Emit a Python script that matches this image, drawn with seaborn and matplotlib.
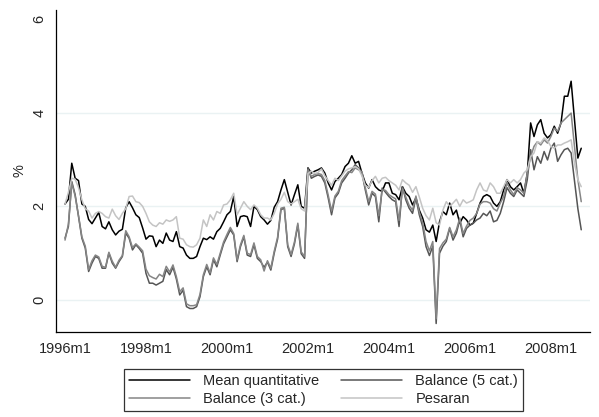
import numpy as np
import pandas as pd
import matplotlib
matplotlib.use("Agg")
import matplotlib.pyplot as plt
import seaborn as sns

# monthly series, 1996m1 .. 2008m10
mean_quant = [
    2.05, 2.15, 2.92, 2.60, 2.55, 2.05, 2.00, 1.72, 1.63, 1.75, 1.87, 1.57,
    1.52, 1.67, 1.50, 1.39, 1.47, 1.51, 1.97, 2.10, 1.97, 1.82, 1.76, 1.54,
    1.30, 1.37, 1.36, 1.14, 1.28, 1.21, 1.43, 1.28, 1.25, 1.46, 1.14, 1.11,
    0.96, 0.89, 0.89, 0.93, 1.14, 1.32, 1.29, 1.35, 1.30, 1.46, 1.53, 1.67,
    1.82, 1.89, 2.21, 1.57, 1.78, 1.80, 1.78, 1.57, 2.00, 1.93, 1.78, 1.71,
    1.62, 1.70, 1.98, 2.10, 2.35, 2.57, 2.30, 2.03, 2.25, 2.46, 2.00, 1.96,
    2.82, 2.71, 2.75, 2.78, 2.82, 2.71, 2.50, 2.35, 2.53, 2.60, 2.68, 2.85,
    2.92, 3.08, 2.92, 2.96, 2.71, 2.50, 2.39, 2.57, 2.42, 2.35, 2.32, 2.50,
    2.50, 2.28, 2.25, 2.14, 2.42, 2.28, 2.21, 2.03, 2.18, 1.92, 1.75, 1.50,
    1.45, 1.60, 1.25, 1.67, 1.89, 1.82, 2.07, 1.82, 1.92, 1.64, 1.78, 1.71,
    1.60, 1.64, 1.85, 2.07, 2.21, 2.25, 2.21, 2.07, 2.00, 2.10, 2.35, 2.57,
    2.42, 2.35, 2.42, 2.50, 2.28, 2.70, 3.78, 3.49, 3.74, 3.85, 3.56, 3.46,
    3.53, 3.71, 3.56, 3.78, 4.35, 4.35, 4.67, 3.85, 3.03, 3.24,
]

balance5 = [
    1.32, 1.57, 2.53, 2.25, 1.78, 1.32, 1.11, 0.61, 0.79, 0.93, 0.89, 0.68,
    0.68, 1.00, 0.79, 0.68, 0.82, 0.93, 1.43, 1.32, 1.07, 1.18, 1.10, 1.00,
    0.57, 0.36, 0.36, 0.32, 0.36, 0.40, 0.65, 0.54, 0.70, 0.45, 0.11, 0.21,
    -0.14, -0.18, -0.18, -0.14, 0.07, 0.50, 0.71, 0.54, 0.86, 0.71, 0.96, 1.20,
    1.35, 1.50, 1.39, 0.82, 1.14, 1.35, 0.96, 0.93, 1.18, 0.89, 0.82, 0.70,
    0.81, 0.64, 1.00, 1.30, 1.93, 1.96, 1.14, 0.93, 1.20, 1.60, 0.99, 0.89,
    2.82, 2.60, 2.64, 2.67, 2.64, 2.50, 2.18, 1.82, 2.18, 2.28, 2.50, 2.60,
    2.71, 2.78, 2.89, 2.82, 2.71, 2.35, 2.03, 2.28, 2.21, 1.67, 2.39, 2.30,
    2.21, 2.14, 2.10, 1.57, 2.42, 2.14, 1.96, 1.85, 2.18, 1.82, 1.57, 1.14,
    0.95, 1.15, -0.50, 1.00, 1.15, 1.25, 1.53, 1.28, 1.43, 1.71, 1.35, 1.53,
    1.60, 1.64, 1.71, 1.75, 1.85, 1.80, 1.90, 1.67, 1.70, 1.85, 2.10, 2.40,
    2.28, 2.21, 2.35, 2.28, 2.21, 2.57, 3.21, 2.78, 3.06, 2.92, 3.17, 2.99,
    3.24, 3.35, 2.96, 3.10, 3.21, 3.24, 3.14, 2.55, 1.95, 1.50,
]

balance3 = [
    1.28, 1.62, 2.50, 2.22, 1.80, 1.35, 1.15, 0.65, 0.84, 0.96, 0.92, 0.72,
    0.70, 1.02, 0.83, 0.70, 0.85, 0.95, 1.48, 1.35, 1.12, 1.20, 1.13, 1.05,
    0.66, 0.52, 0.48, 0.45, 0.55, 0.50, 0.72, 0.60, 0.75, 0.50, 0.18, 0.26,
    -0.08, -0.12, -0.12, -0.10, 0.12, 0.54, 0.76, 0.58, 0.90, 0.76, 1.00, 1.24,
    1.40, 1.55, 1.42, 0.86, 1.18, 1.38, 1.00, 0.97, 1.22, 0.93, 0.86, 0.62,
    0.84, 0.68, 1.04, 1.34, 1.96, 1.98, 1.18, 0.97, 1.24, 1.64, 1.03, 0.93,
    2.78, 2.64, 2.68, 2.70, 2.68, 2.55, 2.24, 1.90, 2.22, 2.32, 2.55, 2.65,
    2.74, 2.72, 2.82, 2.78, 2.74, 2.40, 2.10, 2.32, 2.26, 1.80, 2.35, 2.34,
    2.25, 2.20, 2.16, 1.70, 2.38, 2.20, 2.02, 1.92, 2.22, 1.88, 1.65, 1.25,
    1.05, 1.25, -0.40, 1.10, 1.22, 1.30, 1.55, 1.35, 1.50, 1.75, 1.42, 1.58,
    1.70, 1.75, 1.85, 2.05, 2.10, 2.10, 2.07, 1.95, 1.90, 2.07, 2.21, 2.50,
    2.35, 2.25, 2.40, 2.35, 2.28, 2.71, 3.06, 3.28, 3.38, 3.31, 3.42, 3.35,
    3.49, 3.67, 3.60, 3.78, 3.85, 3.92, 3.99, 3.28, 2.57, 2.10,
]

pesaran = [
    2.05, 2.30, 2.60, 2.58, 2.40, 2.14, 1.95, 1.90, 1.75, 1.85, 1.89, 1.85,
    1.78, 1.75, 1.94, 1.80, 1.72, 1.85, 1.95, 2.21, 2.22, 2.10, 2.08, 2.00,
    1.85, 1.67, 1.60, 1.57, 1.65, 1.62, 1.71, 1.68, 1.71, 1.78, 1.32, 1.30,
    1.18, 1.14, 1.13, 1.18, 1.32, 1.71, 1.57, 1.82, 1.71, 1.89, 1.85, 2.03,
    2.05, 2.14, 2.28, 1.82, 1.96, 2.10, 2.00, 1.93, 2.03, 1.96, 1.82, 1.75,
    1.75, 1.71, 1.85, 2.05, 2.15, 2.30, 2.10, 2.05, 2.10, 2.15, 1.95, 1.90,
    2.70, 2.75, 2.70, 2.72, 2.80, 2.65, 2.55, 2.45, 2.60, 2.55, 2.65, 2.75,
    2.80, 2.82, 2.85, 2.80, 2.65, 2.45, 2.40, 2.55, 2.64, 2.50, 2.60, 2.62,
    2.55, 2.50, 2.45, 2.35, 2.57, 2.50, 2.45, 2.30, 2.42, 2.20, 1.96, 1.80,
    1.71, 1.96, 1.65, 1.60, 1.92, 2.10, 2.00, 2.07, 2.15, 2.00, 2.14, 2.07,
    2.10, 2.14, 2.35, 2.50, 2.35, 2.32, 2.50, 2.42, 2.28, 2.28, 2.42, 2.57,
    2.50, 2.57, 2.50, 2.57, 2.71, 2.78, 3.06, 3.14, 3.38, 3.35, 3.46, 3.40,
    3.28, 3.24, 3.31, 3.31, 3.35, 3.38, 3.42, 2.92, 2.57, 2.42,
]

series_names = ["Mean quantitative", "Balance (5 cat.)", "Balance (3 cat.)", "Pesaran"]
series_colors = ["#000000", "#555555", "#858585", "#c4c4c4"]
x_tick_labels = ["1996m1", "1998m1", "2000m1", "2002m1", "2004m1", "2006m1", "2008m1"]
y_ticks = [0, 2, 4, 6]

month = np.arange(len(mean_quant))
df = pd.DataFrame({
    "month": np.tile(month, 4),
    "value": mean_quant + balance5 + balance3 + pesaran,
    "series": np.repeat(series_names, len(month)),
})

sns.set_style("white")
plt.rcParams["font.family"] = ["Liberation Sans", "DejaVu Sans"]
plt.rcParams["font.size"] = 10.5

fig = plt.figure(figsize=(5.99, 4.17), dpi=100)
ax = fig.add_axes([0.0935, 0.204, 0.8915, 0.772])

for g in y_ticks[:-1]:
    ax.axhline(g, color="#eaf2f3", lw=1.0, zorder=0)

sns.lineplot(data=df, x="month", y="value", hue="series", hue_order=series_names,
             palette=series_colors, lw=1.1, legend=False, ax=ax)

ax.set_xlim(-2.67, 155.6)
ax.set_ylim(-0.68, 6.19)
ax.set_xticks(np.arange(0, 24 * len(x_tick_labels), 24))
ax.set_xticklabels(x_tick_labels)
ax.set_yticks(y_ticks)
ax.set_yticklabels([str(v) for v in y_ticks], rotation=90, va="center")
ax.set_xlabel("")
ax.set_ylabel("%", labelpad=4)

for side in ["top", "right"]:
    ax.spines[side].set_visible(False)
for side in ["left", "bottom"]:
    ax.spines[side].set_color("black")
    ax.spines[side].set_linewidth(0.9)
ax.tick_params(direction="out", length=4.5, width=0.8, color="black", pad=2.5)

lines = ax.get_lines()[len(y_ticks) - 1:]
handles = [lines[0], lines[2], lines[1], lines[3]]
labels = [series_names[0], series_names[2], series_names[1], series_names[3]]
leg = fig.legend(handles, labels, ncol=2, loc="upper center",
                 bbox_to_anchor=(0.54, 0.133), frameon=True, fancybox=False,
                 edgecolor="black", handlelength=4.2, handletextpad=0.9,
                 columnspacing=1.5, borderpad=0.35, labelspacing=0.3)
leg.get_frame().set_linewidth(0.9)

fig.savefig("out.png", dpi=100)
